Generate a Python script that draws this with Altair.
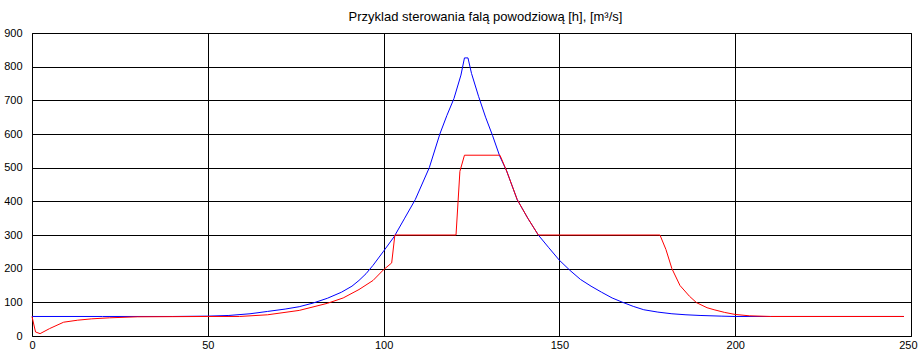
import altair as alt
import pandas as pd

# Inflow (blue) hydrograph, hours vs m3/s
hours_blue = [0, 20, 40, 50, 56, 62, 67, 72, 76, 80, 84, 88, 91, 93, 95, 97, 100,
              103, 106, 109, 113, 116, 118, 120, 122, 123, 124, 125, 127, 129,
              131, 133, 135, 138, 141, 144, 147, 150, 153, 156, 159, 162, 165, 168,
              171, 174, 178, 182, 186, 190, 196, 200, 210, 248]
flow_blue = [58, 58, 58, 59, 61, 66, 73, 80, 87, 98, 112, 130, 148, 165, 185, 210, 252,
             295, 350, 405, 500, 600, 655, 705, 775, 826, 826, 780, 712, 650,
             595, 535, 490, 405, 350, 300, 262, 225, 195, 168, 148, 130, 113, 100,
             88, 78, 71, 66, 63, 61, 59, 58, 58, 58]

# Controlled outflow (red)
hours_red = [0, 1, 2.3, 5, 9, 13, 17, 22, 30, 50, 59, 67, 76, 84, 88.5, 93, 97, 100,
             102.3, 103.2, 120.6, 121.7, 123, 133.1, 135, 138, 141, 144, 178.6, 180.3,
             182, 184.3, 187, 189, 192, 194, 197, 200, 204, 210, 248]
flow_red = [58, 12, 7, 22, 41, 47, 51, 54, 57, 58, 58, 63, 76, 97, 113, 138, 165, 197,
            217, 300, 300, 489, 537, 537, 490, 405, 350, 300, 300, 257,
            200, 150, 118, 99, 84, 78, 70, 64, 60, 58, 58]

x_ticks = [0, 50, 100, 150, 200, 250]
y_ticks = [0, 100, 200, 300, 400, 500, 600, 700, 800, 900]

df_blue = pd.DataFrame({"t": hours_blue, "q": flow_blue})
df_red = pd.DataFrame({"t": hours_red, "q": flow_red})

x_enc = alt.X("t:Q", scale=alt.Scale(domain=[0, 250], nice=False, zero=False),
              axis=alt.Axis(values=x_ticks, title=None, labelPadding=3,
                            labelFlush=False,
                            labelAlign={"condition": {"test": "datum.value == 250",
                                                      "value": "right"},
                                        "value": "center"},
                            labelOffset={"condition": {"test": "datum.value == 250",
                                                       "value": 6},
                                         "value": 0}))
y_enc = alt.Y("q:Q", scale=alt.Scale(domain=[0, 900], nice=False),
              axis=alt.Axis(values=y_ticks, title=None, labelPadding=10))

blue = alt.Chart(df_blue).mark_line(color="#0000ff", strokeWidth=1).encode(
    x=x_enc, y=y_enc)
red = alt.Chart(df_red).mark_line(color="#ff0000", strokeWidth=1).encode(
    x=x_enc, y=y_enc)

chart = alt.layer(blue, red).properties(
    width=879,
    height=303,
    autosize=alt.AutoSizeParams(type="none"),
    padding={"left": 32, "top": 33, "right": 7, "bottom": 14},
    title=alt.TitleParams(
        text="Przyklad sterowania falą powodziową [h], [m³/s]",
        font="Liberation Sans", fontSize=13, fontWeight="normal",
        color="black", dx=14, offset=3),
    background="white",
).configure_axis(
    labelFont="Liberation Sans",
    labelFontSize=11,
    labelColor="black",
    grid=True,
    gridColor="black",
    gridOpacity=1,
    gridWidth=1,
    domain=False,
    ticks=False,
).configure_view(
    stroke="black",
    strokeWidth=1,
)

chart.save("out.html", embed_options={"renderer": "svg", "actions": False})
